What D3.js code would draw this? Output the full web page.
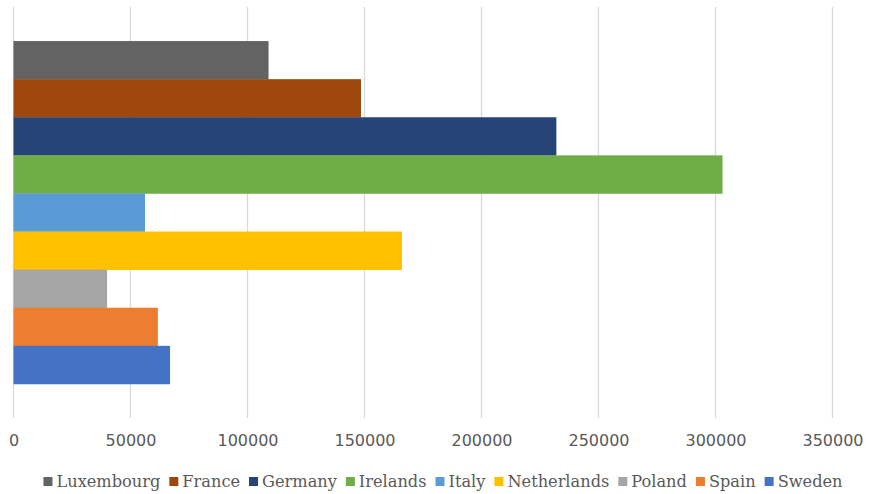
<!DOCTYPE html>
<html>
<head>
<meta charset="utf-8">
<script src="https://cdn.jsdelivr.net/npm/d3@7"></script>
<style>
  html, body { margin: 0; padding: 0; background: #fff; }
  svg { display: block; }
  .tick-label { font-family: "DejaVu Sans", sans-serif; font-size: 16px; fill: #595959; }
  .legend-label { font-family: "DejaVu Serif", serif; font-size: 16.2px; fill: #595959; }
</style>
</head>
<body>
<svg id="chart" width="886" height="494"></svg>
<script>
// Series (one bar each), listed top to bottom
const countries = ["Luxembourg", "France", "Germany", "Irelands", "Italy", "Netherlands", "Poland", "Spain", "Sweden"];
const amounts = [109000, 148500, 232000, 303000, 56200, 166000, 40000, 61700, 66900];
const colors = ["#636363", "#9E480E", "#264478", "#70AD47", "#5B9BD5", "#FFC000", "#A5A5A5", "#ED7D31", "#4472C4"];
const xTicks = [0, 50000, 100000, 150000, 200000, 250000, 300000, 350000];

const svg = d3.select("#chart");
const W = 886, H = 494;
const plot = { left: 13.5, right: 832.5, top: 7, bottom: 418 };

const x = d3.scaleLinear().domain([0, 350000]).range([plot.left, plot.right]);
const y = d3.scaleBand().domain(countries).range([plot.top, plot.bottom])
  .paddingInner(0).paddingOuter(0.894);
const color = d3.scaleOrdinal().domain(countries).range(colors);

// Vertical gridlines
svg.append("g")
  .selectAll("line")
  .data(xTicks)
  .join("line")
  .attr("x1", d => x(d)).attr("x2", d => x(d))
  .attr("y1", plot.top).attr("y2", plot.bottom)
  .attr("stroke", "#d9d9d9").attr("stroke-width", 1.3);

// Bars
svg.append("g")
  .selectAll("rect")
  .data(countries.map((c, i) => ({ c, v: amounts[i] })))
  .join("rect")
  .attr("x", x(0))
  .attr("y", d => y(d.c))
  .attr("width", d => x(d.v) - x(0))
  .attr("height", y.bandwidth() + 0.3)
  .attr("fill", d => color(d.c));

// X axis labels
const xAxis = d3.axisBottom(x).tickValues(xTicks).tickSize(0).tickPadding(0).tickFormat(d3.format("d"));
const ax = svg.append("g").attr("transform", `translate(0, ${plot.bottom + 22})`).call(xAxis);
ax.select(".domain").remove();
ax.selectAll("text").attr("class", "tick-label").attr("dy", "0.36em")
  .attr("fill", null).style("font-size", null).style("font-family", null);
ax.attr("font-family", null).attr("font-size", null);

// Legend
const legend = svg.append("g");
const sw = 9, gapTxt = 4, gapItem = 9;
const items = legend.selectAll("g").data(countries).join("g");
items.append("rect").attr("width", sw).attr("height", sw).attr("y", -sw / 2)
  .attr("fill", d => color(d));
items.append("text").attr("class", "legend-label").attr("x", sw + gapTxt)
  .attr("dy", "0.34em").text(d => d);
let widths = [];
items.each(function () { widths.push(this.querySelector("text").getComputedTextLength()); });
const total = d3.sum(widths, w => sw + gapTxt + w) + gapItem * (countries.length - 1);
let cx = (W - total) / 2;
items.attr("transform", (d, i) => {
  const t = `translate(${cx}, 481.5)`;
  cx += sw + gapTxt + widths[i] + gapItem;
  return t;
});
</script>
</body>
</html>
